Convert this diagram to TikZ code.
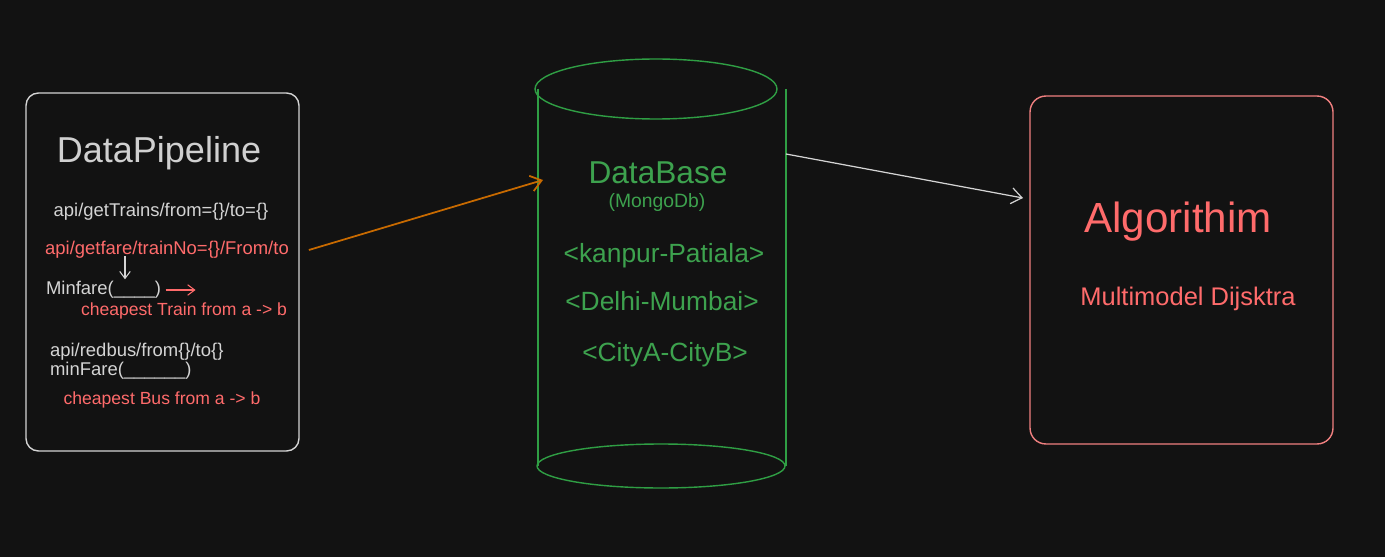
\documentclass[tikz,border=0pt]{standalone}
\usepackage{fontspec}
\setmainfont{Liberation Sans}
\usetikzlibrary{arrows.meta,positioning}

\definecolor{canvas}{HTML}{121212}
\definecolor{inkgray}{HTML}{D4D4D4}
\definecolor{inkred}{HTML}{FF6B6B}
\definecolor{boxred}{HTML}{F08080}
\definecolor{dbgreen}{HTML}{2F9E44}
\definecolor{dbtextgreen}{HTML}{3DA24E}
\definecolor{feedorange}{HTML}{C86A00}

\begin{document}
\begin{tikzpicture}[
  x=0.02cm, y=-0.02cm,
  font=\fontsize{10.5}{12}\selectfont,
  panel/.style={draw, rounded corners=7pt, line width=0.8pt, inner sep=0pt},
  note/.style={inner sep=1pt, text=inkgray},
  hot/.style={inner sep=1pt, text=inkred},
  dbtext/.style={inner sep=1pt, text=dbtextgreen, font=\fontsize{15}{18}\selectfont},
  dbline/.style={draw=dbgreen, line width=0.8pt},
  arrow/.style={-{Straight Barb[length=6pt,width=9pt]}, line width=0.7pt},
  tinyarrow/.style={-{Straight Barb[length=4pt,width=6pt]}, line width=0.6pt}
]

% canvas
\fill[canvas] (0,0) rectangle (1385,557);
\useasboundingbox (0,0) rectangle (1385,557);

% data pipeline
\node[panel, draw=inkgray, minimum width=5.46cm, minimum height=7.16cm] (pipe) at (162.5,272) {};
\node[note, font=\fontsize{20.5}{24}\selectfont, text=inkgray!110] (pipetitle) at (159,153) {DataPipeline};
\node[note] (trains) at (161,212) {api/getTrains/from=\{\}/to=\{\}};
\node[hot] (getfare) at (167,250) {api/getfare/trainNo=\{\}/From/to};
\node[note, anchor=west] (minfare) at (44,290) {Minfare(\_\_\_\_)};
\node[hot, font=\fontsize{10}{12}\selectfont] (cheaptrain) at (184,311) {cheapest Train from a -> b};
\node[note, anchor=west] (redbus) at (48,352) {api/redbus/from\{\}/to\{\}};
\node[note, anchor=west] (minfarebus) at (48,371) {minFare(\_\_\_\_\_\_)};
\node[hot, font=\fontsize{10}{12}\selectfont] (cheapbus) at (162,400) {cheapest Bus from a -> b};

\coordinate (farepick) at (125,256);
\draw[tinyarrow, inkgray] (farepick) -- (farepick |- minfare.north);
\draw[tinyarrow, inkred] ([xshift=0.05cm]minfare.east) -- ++(30,0);

% database
\draw[dbline] (656,89) ellipse [x radius=2.42cm, y radius=0.6cm];
\draw[dbline] (538,89) -- (538,466);
\draw[dbline] (786,89) -- (786,466);
\draw[dbline] (661,466) ellipse [x radius=2.48cm, y radius=0.44cm];

\node[dbtext, font=\fontsize{18}{22}\selectfont] (dbtitle) at (658,173) {DataBase};
\node[dbtext, font=\fontsize{11}{13}\selectfont] (dbsub) at (657,203) {(MongoDb)};
\node[dbtext] (route1) at (664,256) {<kanpur-Patiala>};
\node[dbtext] (route2) at (662,301) {<Delhi-Mumbai>};
\node[dbtext] (route3) at (665,355) {<CityA-CityB>};

% algorithm
\node[panel, draw=boxred, rounded corners=9pt, minimum width=6.06cm, minimum height=6.96cm] (algo) at (1181.5,270) {};
\node[hot, font=\fontsize{24}{28}\selectfont] (algotitle) at (1178,222) {Algorithim};
\node[hot, font=\fontsize{14.5}{17}\selectfont] (algosub) at (1188,299) {Multimodel Dijsktra};

% connectors
\coordinate (dbin) at (543,180);
\coordinate (dbout) at (786,154);
\coordinate (algoin) at (1023,198);
\draw[arrow, feedorange, line width=1pt] ([xshift=0.36cm]getfare.east) -- (dbin);
\draw[arrow, inkgray] (dbout) -- (algoin);

\end{tikzpicture}
\end{document}
